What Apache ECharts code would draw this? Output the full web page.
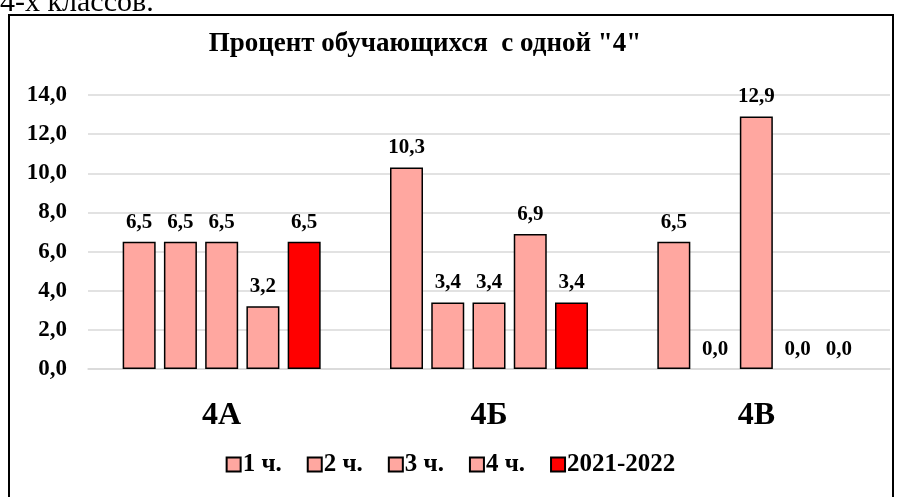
<!DOCTYPE html>
<html>
<head>
<meta charset="utf-8">
<script src="https://cdn.jsdelivr.net/npm/echarts@6/dist/echarts.min.js"></script>
<style>
  html, body { margin: 0; padding: 0; background: #fff; }
  #main { width: 901px; height: 497px; }
</style>
</head>
<body>
<div id="main"></div>
<script>
  // данные диаграммы
  var classes = ['4А', '4Б', '4В'];
  var seriesNames = ['1 ч.', '2 ч.', '3 ч.', '4 ч.', '2021-2022'];
  var q1 = [6.5, 10.3, 6.5];
  var q2 = [6.5, 3.4, 0.0];
  var q3 = [6.5, 3.4, 12.9];
  var q4 = [3.2, 6.9, 0.0];
  var year = [6.5, 3.4, 0.0];
  var yTicks = [0, 2, 4, 6, 8, 10, 12, 14];

  var font = '"Liberation Serif", "Times New Roman", serif';
  var pink = '#FFA7A0';
  var red = '#FF0000';

  function fmt(v) {
    return Number(v).toFixed(1).replace('.', ',');
  }

  function makeSeries(name, data, color) {
    return {
      name: name,
      type: 'bar',
      // у нулевых столбиков рамку не рисуем
      data: data.map(function (v) {
        return v === 0 ? { value: v, itemStyle: { borderWidth: 0 } } : v;
      }),
      barWidth: 33,
      barGap: '25%',
      itemStyle: { color: color, borderColor: '#000', borderWidth: 1.5 },
      label: {
        show: true,
        position: 'top',
        distance: 9,
        formatter: function (p) { return fmt(p.value); },
        fontFamily: font,
        fontWeight: 'bold',
        fontSize: 21,
        color: '#000'
      }
    };
  }

  var chart = echarts.init(document.getElementById('main'));
  chart.setOption({
    animation: false,
    backgroundColor: '#fff',
    graphic: [
      {
        type: 'text',
        left: 0,
        top: -12,
        style: { text: '4-х классов.', font: '30px ' + font, fill: '#000' }
      },
      {
        type: 'rect',
        shape: { x: 9, y: 15, width: 884, height: 500 },
        style: { fill: 'none', stroke: '#000', lineWidth: 2 },
        z: 100
      }
    ],
    title: {
      text: 'Процент обучающихся  с одной "4"',
      left: 420,
      textAlign: 'center',
      top: 26,
      textStyle: { fontFamily: font, fontWeight: 'bold', fontSize: 27, color: '#000' }
    },
    legend: {
      data: seriesNames,
      bottom: 15,
      left: 'center',
      itemWidth: 14,
      itemHeight: 14,
      itemGap: 25,
      icon: 'rect',
      textStyle: { fontFamily: font, fontWeight: 'bold', fontSize: 25, color: '#000', padding: [0, 0, 0, -3] }
    },
    grid: { left: 88, right: 11, top: 95, bottom: 128 },
    xAxis: {
      type: 'category',
      data: classes,
      axisTick: { show: false },
      axisLine: { lineStyle: { color: '#d9d9d9', width: 1.5 } },
      axisLabel: { fontFamily: font, fontWeight: 'bold', fontSize: 32, color: '#000', margin: 31 }
    },
    yAxis: {
      type: 'value',
      min: yTicks[0],
      max: yTicks[yTicks.length - 1],
      interval: 2,
      axisLine: { show: false },
      axisTick: { show: false },
      splitLine: { lineStyle: { color: '#d9d9d9', width: 1.5 } },
      axisLabel: {
        fontFamily: font, fontWeight: 'bold', fontSize: 23, color: '#000', margin: 21,
        formatter: function (v) { return fmt(v); }
      }
    },
    series: [
      makeSeries(seriesNames[0], q1, pink),
      makeSeries(seriesNames[1], q2, pink),
      makeSeries(seriesNames[2], q3, pink),
      makeSeries(seriesNames[3], q4, pink),
      makeSeries(seriesNames[4], year, red)
    ]
  });
</script>
</body>
</html>
